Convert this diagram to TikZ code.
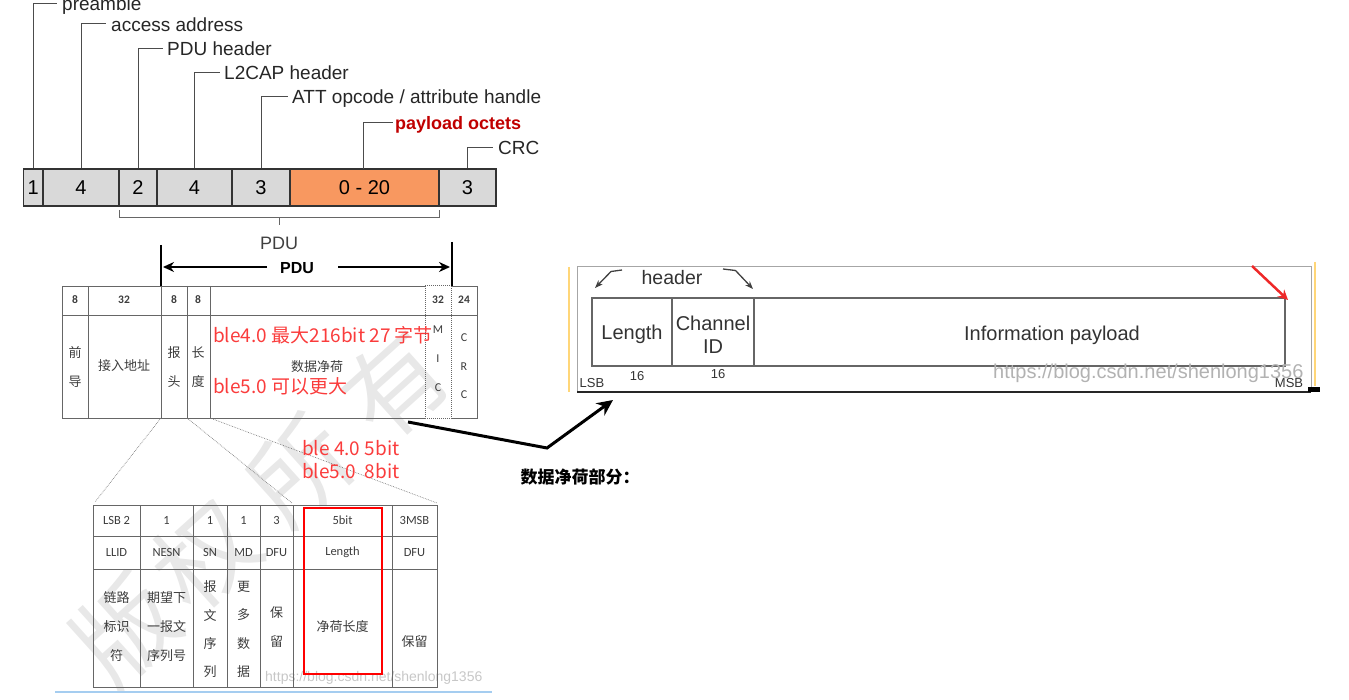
\documentclass[tikz,border=0pt]{standalone}
\usepackage{fontspec}
\setmainfont{Liberation Sans}
\newfontfamily\cjk{Noto Sans CJK SC}
\newfontfamily\carl{Carlito}
\usetikzlibrary{arrows.meta,calc}
\definecolor{seggray}{RGB}{217,217,217}
\definecolor{segorange}{RGB}{248,152,96}
\definecolor{darkred}{RGB}{192,0,0}
\definecolor{lightred}{RGB}{250,60,60}
\definecolor{txtgray}{RGB}{60,60,60}
\definecolor{wmblue}{RGB}{165,205,240}
\definecolor{frameyellow}{RGB}{255,214,120}
\definecolor{arrred}{RGB}{238,40,40}
\newcommand\myfs[2]{\fontsize{#1}{#2}\selectfont}
\begin{document}
\begin{tikzpicture}[x=1pt,y=-1pt,
  seg/.style={draw=black!80, line width=1.2pt, inner sep=0pt, minimum height=37pt, font=\myfs{20}{24}},
  lbl/.style={anchor=base west, inner sep=0pt, font=\myfs{19}{23}, text=black!85},
  leader/.style={draw=black!70, line width=1pt},
  tbl/.style={draw=black!60, line width=0.8pt},
  tbldot/.style={draw=black!60, line width=1pt, densely dotted},
  expand/.style={draw=black!50, line width=0.7pt, densely dotted},
  num/.style={inner sep=0pt, font=\carl\bfseries\myfs{11.5}{14}, text=txtgray},
  cell/.style={inner sep=0pt, font=\carl\myfs{12.5}{15}, text=txtgray},
  zh/.style={inner sep=0pt, align=center, font=\cjk\myfs{13}{29}, text=txtgray},
  redtxt/.style={anchor=base west, inner sep=0pt, font=\cjk\myfs{19}{23}, text=lightred},
  bigarrow/.style={line width=3pt, -{Stealth[length=16pt,width=15pt]}},
  pduarrow/.style={line width=2.5pt, -{Stealth[length=11pt,width=10pt]}},
  rtxt/.style={inner sep=0pt, font=\myfs{20}{23}, text=black!80, align=center},
  small/.style={inner sep=0pt, font=\myfs{13}{15}, text=black!80},
  wmchar/.style={rotate=42, text=black!9, font=\cjk\myfs{100}{105}, inner sep=0pt}
]
\useasboundingbox (0,0) rectangle (1349,700);

% ---------- watermarks ----------
\node[wmchar] (wma) at (125,630) {版};
\node[wmchar] (wmb) at (205,555) {权};
\node[wmchar] (wmc) at (300,470) {所};
\node[wmchar] (wmd) at (395,385) {有};
\node[inner sep=0pt, text=black!22, font=\myfs{14}{16}, anchor=west] (wm2) at (265,678) {https://blog.csdn.net/shenlong1356};

% ---------- top packet bar ----------
\node[seg, fill=seggray, minimum width=19.5pt] (b1) at (33.25,187.5) {1};
\node[seg, fill=seggray, minimum width=76pt] (b2) at (81,187.5) {4};
\node[seg, fill=seggray, minimum width=38pt] (b3) at (138,187.5) {2};
\node[seg, fill=seggray, minimum width=75pt] (b4) at (194.5,187.5) {4};
\node[seg, fill=seggray, minimum width=58pt] (b5) at (261,187.5) {3};
\node[seg, fill=segorange, minimum width=149pt] (b6) at (364.5,187.5) {0 - 20};
\node[seg, fill=seggray, minimum width=57pt] (b7) at (467.5,187.5) {3};

% labels
\node[lbl] (tpre) at (62,10.5) {preamble};
\node[lbl] (tacc) at (111,31.5) {access address};
\node[lbl] (tpdu) at (167,56) {PDU header};
\node[lbl] (tl2) at (224,80) {L2CAP header};
\node[lbl] (tatt) at (292,104) {ATT opcode / attribute handle};
\node[lbl, text=darkred, font=\bfseries\myfs{18}{22}] (tpay) at (395,130) {payload octets};
\node[lbl] (tcrc) at (498,155) {CRC};

\coordinate (cpre) at (57,3.5);
\coordinate (cacc) at (106,24);
\coordinate (cpdu) at (163,49);
\coordinate (cl2) at (220,72.5);
\coordinate (catt) at (288,97);
\coordinate (cpay) at (393,122.5);
\coordinate (ccrc) at (493,148);
\draw[leader] (b1.north) |- (cpre);
\draw[leader] (b2.north) |- (cacc);
\draw[leader] (b3.north) |- (cpdu);
\draw[leader] (b4.north) |- (cl2);
\draw[leader] (b5.north) |- (catt);
\draw[leader] (363,169) |- (cpay);
\draw[leader] (b7.north) |- (ccrc);

% bracket
\draw[draw=black!60, line width=1pt] (119,210) -- (119,218) -- (439,218) -- (439,210);
\draw[draw=black!60, line width=1pt] (279,218) -- (279,225);
\node[inner sep=0pt, font=\myfs{18}{20}, text=black!75] (pdul) at (279,243) {PDU};

% bold PDU arrows
\draw[line width=2.5pt] (161,245) -- (161,287);
\draw[line width=2.5pt] (452,242) -- (452,286);
\node[inner sep=0pt, font=\bfseries\myfs{16}{18}] (pdub) at (297,268) {PDU};
\coordinate (pl) at (163,267);
\coordinate (pr) at (450,267);
\draw[pduarrow] (267,267) -- (pl);
\draw[pduarrow] (338,267) -- (pr);

% ---------- middle table ----------
\draw[tbl] (425,286) -- (62,286) -- (62,418) -- (425,418);
\draw[tbl] (451,286) -- (477,286) -- (477,418) -- (451,418);
\draw[tbldot] (425,286) -- (451,286) (425,418) -- (451,418) (425,286) -- (425,418) (451,286) -- (451,418);
\draw[tbl] (62,315) -- (477,315);
\foreach \x in {88,161,187,210} \draw[tbl] (\x,286) -- (\x,418);

\node[num] (h1) at (75,300) {8};
\node[num] (h2) at (124,300) {32};
\node[num] (h3) at (174,300) {8};
\node[num] (h4) at (198,300) {8};
\node[num] (h5) at (438,300) {32};
\node[num] (h6) at (464,300) {24};

\node[zh] (m1) at (75,367.5) {前\\导};
\node[zh] (m2) at (124,366) {接入地址};
\node[zh] (m3) at (174,367.5) {报\\头};
\node[zh] (m4) at (198,367.5) {长\\度};
\node[zh] (m5) at (317,367) {数据净荷};
\node[zh, font=\carl\myfs{12}{29}] (m6) at (438,359) {M\\I\\C};
\node[zh, font=\carl\myfs{12}{28.5}] (m7) at (464,366.5) {C\\R\\C};

\node[redtxt] (r1) at (213,343) {ble4.0 最大216bit 27 字节};
\node[redtxt] (r2) at (213,393) {ble5.0 可以更大};

% expansion lines
\coordinate (e1) at (95,502);
\coordinate (e2) at (292,503);
\coordinate (e3) at (437,503);
\draw[expand] (161,418) -- (e1);
\draw[expand] (187,418) -- (e2);
\draw[expand] (210,418) -- (e3);

\node[redtxt] (r3) at (302,455) {ble 4.0 5bit};
\node[redtxt] (r4) at (302,478) {ble5.0\hspace{0.45em}8bit};

% ---------- bottom table ----------
\draw[tbl] (93,505) rectangle (437,687);
\draw[tbl] (93,536) -- (437,536) (93,569) -- (437,569);
\foreach \x in {140,193,227,260,293,392} \draw[tbl] (\x,505) -- (\x,687);

\node[cell] (t1) at (116.5,520.5) {LSB 2};
\node[cell] (t2) at (166.5,520.5) {1};
\node[cell] (t3) at (210,520.5) {1};
\node[cell] (t4) at (243.5,520.5) {1};
\node[cell] (t5) at (276.5,520.5) {3};
\node[cell] (t6) at (342.5,520.5) {5bit};
\node[cell] (t7) at (414.5,520.5) {3MSB};

\node[cell] (u1) at (116.5,552.5) {LLID};
\node[cell] (u2) at (166.5,552.5) {NESN};
\node[cell] (u3) at (210,552.5) {SN};
\node[cell] (u4) at (243.5,552.5) {MD};
\node[cell] (u5) at (276.5,552.5) {DFU};
\node[cell] (u6) at (342.5,552.5) {Length};
\node[cell] (u7) at (414.5,552.5) {DFU};

\node[zh] (v1) at (116.5,627) {链路\\标识\\符};
\node[zh] (v2) at (166.5,627) {期望下\\一报文\\序列号};
\node[zh, font=\cjk\myfs{13}{28.3}] (v3) at (210,629.5) {报\\文\\序\\列};
\node[zh, font=\cjk\myfs{13}{28.3}] (v4) at (243.5,629.5) {更\\多\\数\\据};
\node[zh] (v5) at (276.5,627.5) {保\\留};
\node[zh] (v6) at (342.5,627) {净荷长度};
\node[zh] (v7) at (414.5,642) {保留};

\draw[red, line width=1.5pt] (304,508) rectangle (382,674);
\draw[wmblue, line width=2pt] (55,692) -- (492,692);

% ---------- right panel ----------
\draw[frameyellow, line width=1.5pt] (569,267) -- (569,392);
\draw[frameyellow, line width=1.5pt] (1315,262) -- (1315,386);
\draw[black!35, line width=1pt] (577,392) -- (577,267) -- (1311,267) -- (1311,392);
\draw[black!85, line width=1.5pt] (577,392) -- (1311,392);
\fill[black] (1308,387) rectangle (1320,392);

\draw[black!60, line width=1.3pt] (592,298) rectangle (1285,366);
\draw[black!60, line width=1.3pt] (672,298) -- (672,366) (754,298) -- (754,366);

\node[rtxt] (lenr) at (632,334) {Length};
\node[rtxt, font=\myfs{20}{23}] (chid) at (713,335) {Channel\\ID};
\node[rtxt] (info) at (1052,335) {Information payload};
\node[rtxt, font=\myfs{19.5}{22}] (hdr) at (672,278) {header};
\coordinate (hl) at (595,288);
\coordinate (hr) at (753,289);
\draw[black!75, line width=1.3pt, -{Stealth[length=8pt,width=6pt]}] (622,270) -- (611,271.5) -- (hl);
\draw[black!75, line width=1.3pt, -{Stealth[length=8pt,width=6pt]}] (723,269) -- (735.5,270.5) -- (hr);

\node[small] (lsb) at (592,383) {LSB};
\node[small] (n16a) at (637,376) {16};
\node[small] (n16b) at (718,374) {16};
\node[small] (msb) at (1289,383) {MSB};
\node[inner sep=0pt, text=black!30, font=\myfs{20}{22}, anchor=west] (wm3) at (993,373) {https://blog.csdn.net/shenlong1356};

\coordinate (rs) at (1252,266);
\coordinate (re) at (1288,300);
\draw[arrred, line width=2.5pt, -{Stealth[length=10pt,width=10pt]}] (rs) -- (re);

% ---------- big arrow and label ----------
\coordinate (a0) at (408,422);
\coordinate (a1) at (547,448);
\coordinate (a2) at (613,400);
\draw[bigarrow] (a0) -- (a1) -- (a2);
\node[inner sep=0pt, font=\cjk\bfseries\myfs{17}{20}] (dlbl) at (580,477) {数据净荷部分：};
\end{tikzpicture}
\end{document}
